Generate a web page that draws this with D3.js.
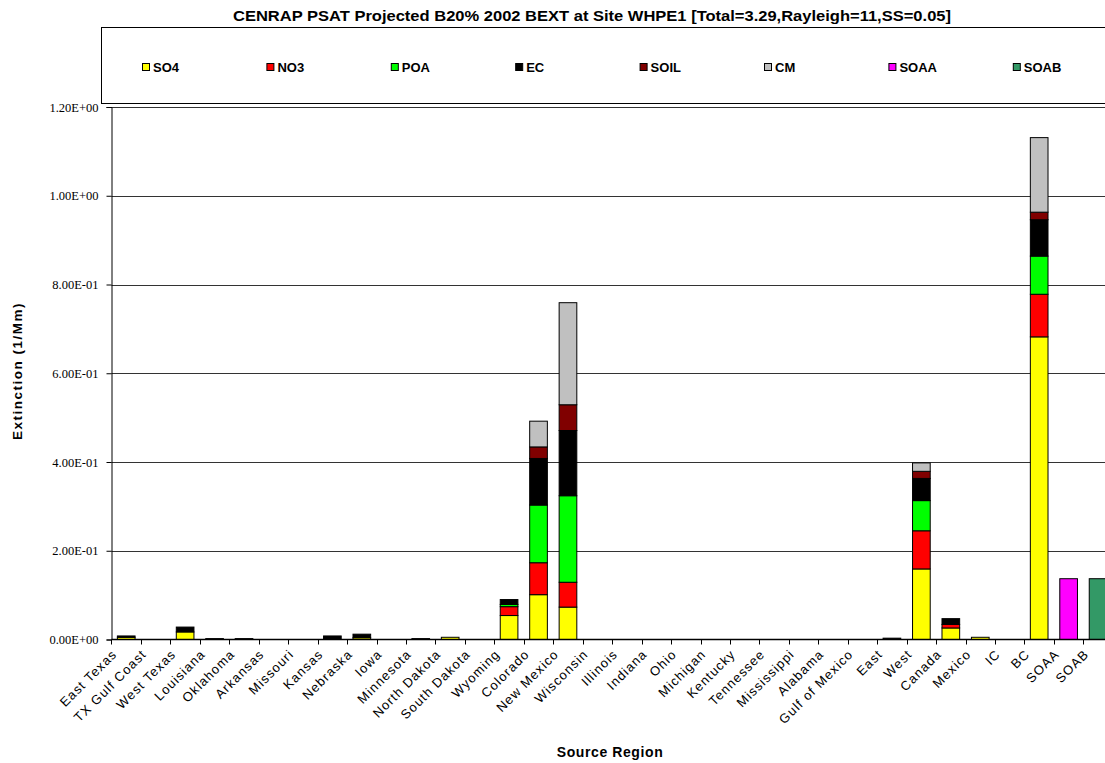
<!DOCTYPE html>
<html>
<head>
<meta charset="utf-8">
<script src="https://cdn.jsdelivr.net/npm/d3@7"></script>
<style>
  html, body { margin: 0; padding: 0; background: #fff; }
  svg { display: block; }
</style>
</head>
<body>
<svg id="chart" width="1105" height="763"></svg>
<script>
// Source regions along the x axis
const categories = [
  "East Texas", "TX Gulf Coast", "West Texas", "Louisiana", "Oklahoma", "Arkansas",
  "Missouri", "Kansas", "Nebraska", "Iowa", "Minnesota", "North Dakota", "South Dakota",
  "Wyoming", "Colorado", "New Mexico", "Wisconsin", "Illinois", "Indiana", "Ohio",
  "Michigan", "Kentucky", "Tennessee", "Mississippi", "Alabama", "Gulf of Mexico",
  "East", "West", "Canada", "Mexico", "IC", "BC", "SOAA", "SOAB"
];

// Extinction contributions (1/Mm) by species, one value per region
const so4  = [0.005, 0, 0.017, 0, 0, 0, 0, 0, 0.004, 0, 0, 0.005, 0, 0.054, 0.101, 0.073, 0, 0, 0, 0, 0, 0, 0, 0, 0, 0, 0, 0.159, 0.026, 0.005, 0, 0.682, 0, 0];
const no3  = [0, 0, 0, 0, 0, 0, 0, 0, 0, 0, 0, 0, 0, 0.020, 0.072, 0.056, 0, 0, 0, 0, 0, 0, 0, 0, 0, 0, 0, 0.086, 0.008, 0, 0, 0.096, 0, 0];
const poa  = [0, 0, 0, 0, 0, 0, 0, 0, 0, 0, 0, 0, 0, 0.005, 0.130, 0.195, 0, 0, 0, 0, 0, 0, 0, 0, 0, 0, 0, 0.068, 0, 0, 0, 0.086, 0, 0];
const ec   = [0.003, 0, 0.011, 0.002, 0.002, 0, 0, 0.008, 0.008, 0, 0.002, 0, 0, 0.011, 0.105, 0.147, 0, 0, 0, 0, 0, 0, 0, 0, 0, 0, 0.003, 0.050, 0.013, 0, 0, 0.082, 0, 0];
const soil = [0, 0, 0, 0, 0, 0, 0, 0, 0, 0, 0, 0, 0, 0, 0.026, 0.058, 0, 0, 0, 0, 0, 0, 0, 0, 0, 0, 0, 0.016, 0, 0, 0, 0.017, 0, 0];
const cm   = [0, 0, 0, 0, 0, 0, 0, 0, 0, 0, 0, 0, 0, 0, 0.058, 0.230, 0, 0, 0, 0, 0, 0, 0, 0, 0, 0, 0, 0.019, 0, 0, 0, 0.168, 0, 0];
const soaa = [0, 0, 0, 0, 0, 0, 0, 0, 0, 0, 0, 0, 0, 0, 0, 0, 0, 0, 0, 0, 0, 0, 0, 0, 0, 0, 0, 0, 0, 0, 0, 0, 0.137, 0];
const soab = [0, 0, 0, 0, 0, 0, 0, 0, 0, 0, 0, 0, 0, 0, 0, 0, 0, 0, 0, 0, 0, 0, 0, 0, 0, 0, 0, 0, 0, 0, 0, 0, 0, 0.137];

const seriesNames = ["SO4", "NO3", "POA", "EC", "SOIL", "CM", "SOAA", "SOAB"];
const seriesValues = [so4, no3, poa, ec, soil, cm, soaa, soab];
const seriesColors = ["#ffff00", "#ff0000", "#00ff00", "#000000", "#800000", "#c0c0c0", "#ff00ff", "#339966"];

const yTicks = [0, 0.2, 0.4, 0.6, 0.8, 1.0, 1.2];
const yTickLabels = ["0.00E+00", "2.00E-01", "4.00E-01", "6.00E-01", "8.00E-01", "1.00E+00", "1.20E+00"];

const titleText = "CENRAP PSAT Projected B20% 2002 BEXT at Site WHPE1 [Total=3.29,Rayleigh=11,SS=0.05]";

// Build a table of rows for the stack layout
const rows = categories.map((c, i) => {
  const r = { region: c };
  seriesNames.forEach((s, k) => { r[s] = seriesValues[k][i]; });
  return r;
});

const svg = d3.select("#chart");
svg.append("rect").attr("width", 1105).attr("height", 763).attr("fill", "#fff");

const plot = { left: 111.5, right: 1112.8, top: 107, bottom: 639.5 };

const x = d3.scaleBand()
  .domain(categories)
  .range([plot.left, plot.right])
  .paddingInner(0.4)
  .paddingOuter(0.2);

const y = d3.scaleLinear()
  .domain([0, 1.2])
  .range([plot.bottom, plot.top]);

// Title
svg.append("text")
  .attr("x", 592).attr("y", 21)
  .attr("text-anchor", "middle")
  .attr("font-family", "Liberation Sans, Arial, sans-serif")
  .attr("font-weight", "bold")
  .attr("font-size", 15.5)
  .attr("textLength", 718)
  .attr("lengthAdjust", "spacingAndGlyphs")
  .attr("fill", "#000")
  .text(titleText);

// Legend box
svg.append("rect")
  .attr("x", 101.5).attr("y", 27.5)
  .attr("width", 1020).attr("height", 76)
  .attr("fill", "#fff").attr("stroke", "#000").attr("stroke-width", 1);

const legend = svg.append("g");
seriesNames.forEach((name, k) => {
  const lx = 142 + k * 124.4;
  legend.append("rect")
    .attr("x", lx + 0.5).attr("y", 63.5)
    .attr("width", 7).attr("height", 7)
    .attr("fill", seriesColors[k]).attr("stroke", "#000").attr("stroke-width", 1);
  legend.append("text")
    .attr("x", lx + 11).attr("y", 72)
    .attr("font-family", "Liberation Sans, Arial, sans-serif")
    .attr("font-weight", "bold")
    .attr("font-size", 13)
    .attr("fill", "#000")
    .text(name);
});

// Gridlines
svg.append("g")
  .selectAll("line")
  .data(yTicks.filter(d => d > 0))
  .join("line")
  .attr("x1", plot.left).attr("x2", plot.right)
  .attr("y1", d => Math.round(y(d)) + 0.5)
  .attr("y2", d => Math.round(y(d)) + 0.5)
  .attr("stroke", "#333").attr("stroke-width", 1);

// Stacked bars
const stack = d3.stack().keys(seriesNames);
const stacked = stack(rows);

const barsG = svg.append("g");
stacked.forEach((layer, k) => {
  barsG.append("g")
    .selectAll("rect")
    .data(layer.filter(d => d[1] - d[0] > 0))
    .join("rect")
    .attr("x", d => x(d.data.region))
    .attr("width", x.bandwidth())
    .attr("y", d => y(d[1]))
    .attr("height", d => y(d[0]) - y(d[1]))
    .attr("fill", seriesColors[k])
    .attr("stroke", "#000")
    .attr("stroke-width", 1);
});

// Y axis
const yAxis = d3.axisLeft(y)
  .tickValues(yTicks)
  .tickFormat((d, i) => yTickLabels[i])
  .tickSize(5)
  .tickPadding(8);

const yAxisG = svg.append("g")
  .attr("transform", `translate(${plot.left},0)`)
  .call(yAxis);
yAxisG.select(".domain").attr("stroke", "#000");
yAxisG.selectAll(".tick line").attr("stroke", "#000");
yAxisG.selectAll(".tick text")
  .attr("font-family", "Liberation Serif, Times New Roman, serif")
  .attr("font-size", 12.5)
  .attr("fill", "#000");

// X axis: ticks at band boundaries
const step = x.step();
const xAxisG = svg.append("g");
xAxisG.append("line")
  .attr("x1", plot.left).attr("x2", plot.right)
  .attr("y1", plot.bottom).attr("y2", plot.bottom)
  .attr("stroke", "#000").attr("stroke-width", 1.5);
xAxisG.selectAll("line.tick")
  .data(categories)
  .join("line")
  .attr("class", "tick")
  .attr("x1", d => Math.round(x(d) - step * 0.2) + 0.5)
  .attr("x2", d => Math.round(x(d) - step * 0.2) + 0.5)
  .attr("y1", plot.bottom).attr("y2", plot.bottom + 5)
  .attr("stroke", "#000");

xAxisG.selectAll("text")
  .data(categories)
  .join("text")
  .attr("transform", d => `translate(${x(d) + x.bandwidth() / 2 - 15},${plot.bottom + 9}) rotate(-45)`)
  .attr("text-anchor", "end")
  .attr("dy", "0.71em")
  .attr("font-family", "Liberation Sans, Arial, sans-serif")
  .attr("font-size", 13)
  .attr("letter-spacing", 1.1)
  .attr("fill", "#000")
  .text(d => d);

// Axis titles
svg.append("text")
  .attr("transform", "translate(22,371) rotate(-90)")
  .attr("text-anchor", "middle")
  .attr("font-family", "Liberation Sans, Arial, sans-serif")
  .attr("font-weight", "bold")
  .attr("font-size", 13.5)
  .attr("letter-spacing", 1.5)
  .attr("fill", "#000")
  .text("Extinction (1/Mm)");

svg.append("text")
  .attr("x", 610).attr("y", 757)
  .attr("text-anchor", "middle")
  .attr("font-family", "Liberation Sans, Arial, sans-serif")
  .attr("font-weight", "bold")
  .attr("font-size", 14)
  .attr("letter-spacing", 0.6)
  .attr("fill", "#000")
  .text("Source Region");
</script>
</body>
</html>
